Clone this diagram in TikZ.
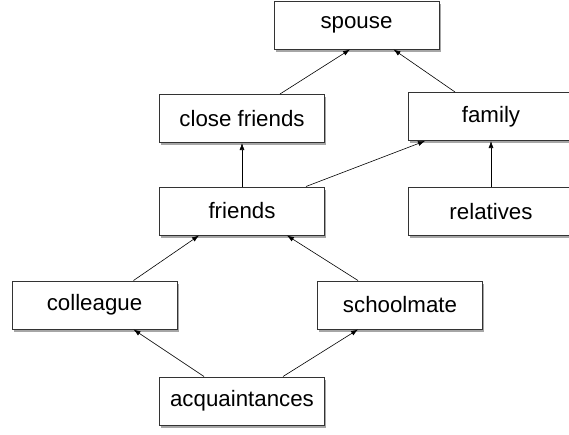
\documentclass[tikz,border=0pt]{standalone}
\usepackage{fontspec}
\setmainfont{Liberation Sans}
\usetikzlibrary{arrows.meta,shadows}
\begin{document}
\begin{tikzpicture}[x=1pt,y=-1pt,
  box/.style={draw=black!80,line width=1pt,fill=white,minimum width=165pt,minimum height=48pt,inner sep=0pt,
    font=\fontsize{22.3pt}{26pt}\selectfont,
    drop shadow={shadow xshift=1.5pt,shadow yshift=-2.5pt,fill=black,opacity=.35}},
  arr/.style={-{Latex[length=7pt,width=5pt]},line width=0.6pt,black}]
\useasboundingbox (0,0) rectangle (569,434);
\clip (0,0) rectangle (569,434);
\node[box] (spouse) at (356.5,25) {spouse};
\node[box] (close) at (242,118.5) {close friends};
\node[box] (family) at (491,116.5) {family};
\node[box] (friends) at (242,211) {friends};
\node[box] (relatives) at (491,211.5) {relatives};
\node[box] (colleague) at (94.5,305) {colleague};
\node[box] (schoolmate) at (400,305) {schoolmate};
\node[box] (acq) at (242,401) {acquaintances};
\draw[arr] ([xshift=38pt]close.north) -- ([xshift=-6.5pt]spouse.south);
\draw[arr] ([xshift=-36pt]family.north) -- ([xshift=37pt]spouse.south);
\draw[arr] (friends.north) -- (close.south);
\draw[arr] ([xshift=64pt]friends.north) -- ([xshift=-66pt]family.south);
\draw[arr] (relatives.north) -- (family.south);
\draw[arr] ([xshift=39pt]colleague.north) -- ([xshift=-43pt]friends.south);
\draw[arr] ([xshift=-42pt]schoolmate.north) -- ([xshift=45pt]friends.south);
\draw[arr] ([xshift=-38pt]acq.north) -- ([xshift=39pt]colleague.south);
\draw[arr] ([xshift=41pt]acq.north) -- ([xshift=-42pt]schoolmate.south);
\end{tikzpicture}
\end{document}
